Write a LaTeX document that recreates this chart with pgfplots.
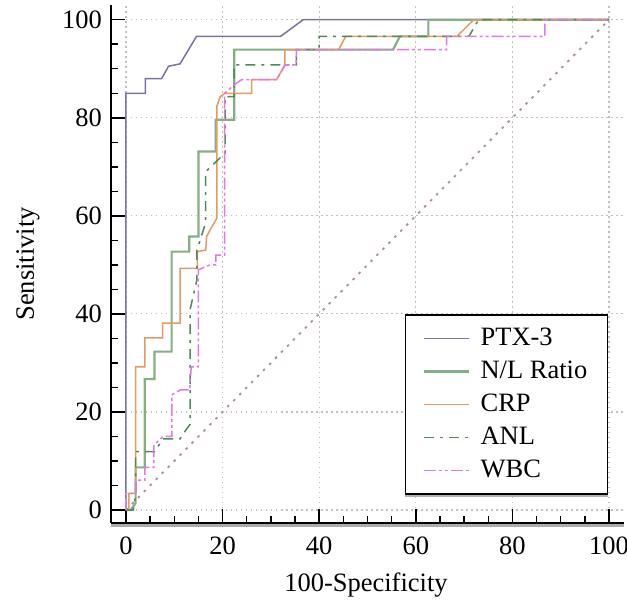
\documentclass[border=0pt]{standalone}
\usepackage{fontspec}
\setmainfont{Liberation Serif}
\usepackage{pgfplots}
\pgfplotsset{compat=1.18}

\definecolor{ptxc}{HTML}{7474A6}
\definecolor{nlc}{HTML}{84AE84}
\definecolor{crpc}{HTML}{E39A64}
\definecolor{anlc}{HTML}{4E8A58}
\definecolor{wbcc}{HTML}{E07AE0}
\definecolor{diagc}{HTML}{B48C8C}

\begin{document}
\fontsize{26.5bp}{31bp}\selectfont
\begin{tikzpicture}
\begin{axis}[
    name=ax, at={(0,0)}, anchor=south west,
    scale only axis, width=513bp, height=518bp,
    xmin=-3.1, xmax=103.1, ymin=-2.65, ymax=103,
    axis x line=bottom, axis y line=left,
    axis line style={-, line width=2bp, black},
    xtick={0,20,...,100}, ytick={0,20,...,100}, minor tick num=3,
    tick align=inside, major tick length=14bp, minor tick length=7bp,
    tick style={black, line width=1.5bp},
    grid=major,
    major grid style={gray!50, line width=1.2bp, dash pattern=on 1.5bp off 3.5bp},
    /pgf/number format/assume math mode=true,
    xticklabel style={yshift=-5bp},
    xlabel={100-Specificity}, ylabel={Sensitivity},
    xlabel style={at={(axis description cs:0.497,-0.12)}, anchor=center},
    ylabel style={at={(axis description cs:-0.162,0.5)}, anchor=center},
    legend style={name=leg, at={(axis cs:99.8,3.1)}, anchor=south east,
        draw=black, line width=1.5bp, inner xsep=18bp, inner ysep=10bp,
        row sep=6bp,
        /tikz/every odd column/.append style={column sep=8bp},
        nodes={inner sep=2bp, text height=18bp, text depth=5bp}},
    legend cell align=left,
    legend image code/.code={\draw[#1] (0bp,0bp) -- (45bp,0bp);},
]
\addplot[diagc, line width=1.8bp, dash pattern=on 2.5bp off 6bp, forget plot] coordinates {(0,0) (100,100)};

\addplot[ptxc, line width=1.5bp] coordinates {
(0,0) (0,85) (4,85) (4,88) (7.4,88) (8.8,90.5) (11.2,91) (14.6,96.6) (32,96.6) (36.7,100) (100,100)};

\addplot[nlc, line width=2.2bp] coordinates {
(0,0) (1,0) (2,1.4) (2,8.7) (3.9,8.7) (3.9,26.7) (5.9,26.7) (5.9,32.3) (9.45,32.3) (9.45,52.7)
(13.1,52.7) (13.1,55.8) (15,55.8) (15,73.1) (18.6,73.1) (18.6,79.6) (22.4,79.6) (22.4,93.9)
(55.3,93.9) (56.7,96.6) (62.6,96.6) (62.6,100) (100,100)};

\addplot[crpc, line width=1.5bp] coordinates {
(0,0) (0.6,0) (0.6,3.4) (2,3.4) (2,29.2) (3.9,29.2) (3.9,35.1) (7.6,35.1) (7.6,38.1) (11.2,38.1)
(11.2,49.3) (14.8,49.3) (14.8,52.7) (16.5,53) (16.7,55.8) (17.4,57.1) (18.8,59.5) (18.8,82.3)
(19.5,84.3) (20.5,85) (26,85) (26,87.8) (31.2,87.8) (32.9,90.8) (32.9,93.9) (44,93.9) (45.5,96.6)
(68.5,96.6) (72,100) (100,100)};

\addplot[anlc, line width=1.5bp, dash pattern=on 10bp off 6bp on 3bp off 6bp] coordinates {
(0,0) (1.5,0) (2,3) (2,11.9) (5.9,11.9) (7.7,14.5) (11.2,14.5) (12.6,16.6) (13.3,17.5) (13.3,41)
(14.7,47) (14.7,53) (16.5,58.6) (16.5,69) (20.5,72.8) (20.5,84.3) (22.4,84.3) (22.4,90.8)
(35.3,90.8) (35.3,93.9) (40,93.9) (40,96.6) (71,96.6) (73,100) (100,100)};

\addplot[wbcc, line width=1.5bp, dash pattern=on 12bp off 3bp on 3bp off 3bp on 3bp off 3bp] coordinates {
(0,0) (0,3.4) (2,3.4) (2,6.1) (3.9,6.1) (3.9,8.7) (5.8,8.7) (5.8,13.3) (7.7,15) (9.5,15) (9.5,23.5)
(11.3,24.5) (13.2,24.5) (13.5,29.2) (15,29.2) (15,49) (17.4,50) (18.6,50) (18.6,52) (20.4,52)
(20.4,85) (22.8,87) (24,87.8) (31.2,87.8) (33,90.8) (35.3,90.8) (35.3,93.9) (66.4,93.9)
(66.4,96.6) (86.7,96.6) (86.7,100) (100,100)};

\legend{PTX-3, N/L Ratio, CRP, ANL, WBC}
\end{axis}
\draw[gray!65, line width=3bp] ([yshift=-2.5bp]ax.south west) -- ([yshift=-2.5bp]ax.south east);
\draw[gray!60, line width=2.5bp] ([yshift=-1.2bp]leg.south west) -- ([yshift=-1.2bp]leg.south east);
\pgfresetboundingbox
\path[use as bounding box] (-111bp,-87bp) rectangle (516bp,523bp);
\end{tikzpicture}
\end{document}
